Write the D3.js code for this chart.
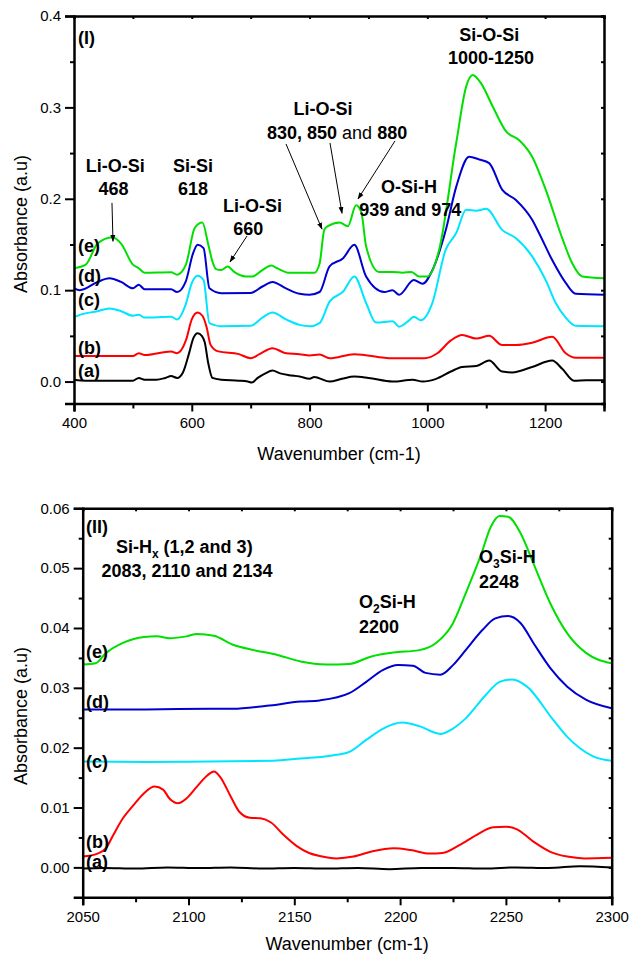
<!DOCTYPE html>
<html><head><meta charset="utf-8">
<script src="https://cdn.jsdelivr.net/npm/d3@7/dist/d3.min.js"></script>
<style>
body{margin:0;background:#fff;}
svg{display:block;font-family:"Liberation Sans",Arial,sans-serif;}
</style></head><body>
<svg id="c" width="630" height="958"></svg>
<script>
// ---------- DATA: panel I (400-1300 cm-1) ----------
const topXTicks = [400, 600, 800, 1000, 1200];
const topYTicks = [0.0, 0.1, 0.2, 0.3, 0.4];
const topA = [[400,0.002],[420,0.001],[450,0.001],[480,0.001],[500,0.001],[510,0.004],[520,0.002],[540,0.002],[555,0.004],[565,0.006],[575,0.004],[585,0.01],[595,0.03],[603,0.048],[610,0.053],[617,0.05],[622,0.043],[628,0.02],[635,0.004],[650,0.002],[680,0.001],[695,0.0],[702,-0.001],[712,0.004],[725,0.009],[737,0.012],[750,0.009],[765,0.007],[783,0.0055],[800,0.003],[808,0.005],[815,0.004],[834,0.0],[855,0.003],[876,0.0055],[900,0.004],[941,0.0],[975,0.002],[992,0.0],[1015,0.003],[1040,0.011],[1059,0.016],[1083,0.017],[1105,0.023],[1127,0.011],[1144,0.01],[1178,0.016],[1212,0.023],[1229,0.014],[1249,0.001],[1270,0.0015],[1300,0.0015]];
const topB = [[400,0.028],[450,0.028],[500,0.028],[510,0.031],[520,0.029],[565,0.033],[575,0.031],[590,0.045],[600,0.068],[610,0.0755],[618,0.072],[625,0.06],[632,0.04],[645,0.033],[680,0.03],[700,0.0256],[715,0.03],[737,0.0365],[760,0.031],[783,0.030],[800,0.0285],[817,0.0295],[834,0.0255],[876,0.030],[941,0.0255],[995,0.0255],[1017,0.031],[1040,0.045],[1059,0.051],[1083,0.047],[1105,0.050],[1127,0.040],[1150,0.040],[1178,0.0425],[1212,0.049],[1235,0.031],[1252,0.026],[1300,0.026]];
const topC = [[400,0.0705],[410,0.073],[440,0.077],[460,0.080],[480,0.077],[500,0.072],[510,0.073],[520,0.070],[565,0.071],[575,0.068],[590,0.085],[600,0.1077],[610,0.1157],[620,0.111],[630,0.064],[650,0.0605],[700,0.061],[720,0.07],[737,0.0755],[760,0.068],[783,0.062],[800,0.0605],[817,0.064],[834,0.0875],[857,0.0985],[876,0.115],[896,0.086],[913,0.0645],[941,0.066],[952,0.060],[969,0.067],[977,0.071],[989,0.067],[1008,0.085],[1031,0.144],[1049,0.1625],[1066,0.188],[1083,0.187],[1100,0.189],[1127,0.166],[1150,0.157],[1178,0.137],[1201,0.111],[1218,0.086],[1235,0.070],[1252,0.061],[1300,0.0605]];
const topD = [[400,0.102],[410,0.100],[440,0.109],[460,0.113],[480,0.109],[500,0.102],[510,0.106],[520,0.101],[565,0.101],[575,0.098],[590,0.11],[602,0.14],[610,0.1496],[620,0.146],[630,0.102],[650,0.0967],[700,0.097],[720,0.104],[737,0.109],[760,0.102],[783,0.096],[800,0.095],[817,0.098],[834,0.126],[857,0.135],[876,0.1496],[896,0.115],[927,0.098],[941,0.100],[952,0.095],[977,0.111],[992,0.107],[1008,0.121],[1031,0.165],[1049,0.213],[1071,0.246],[1088,0.243],[1105,0.239],[1127,0.21],[1150,0.199],[1178,0.177],[1190,0.162],[1212,0.133],[1235,0.108],[1252,0.096],[1300,0.095]];
const topE = [[400,0.124],[420,0.128],[440,0.151],[465,0.158],[480,0.151],[500,0.128],[510,0.124],[520,0.119],[565,0.1195],[575,0.117],[590,0.128],[605,0.168],[618,0.174],[628,0.15],[636,0.1295],[641,0.123],[650,0.122],[661,0.126],[672,0.12],[692,0.115],[703,0.115],[720,0.122],[735,0.127],[745,0.124],[766,0.119],[800,0.119],[808,0.119],[817,0.129],[825,0.166],[831,0.17],[851,0.174],[865,0.170],[879,0.193],[888,0.185],[896,0.148],[918,0.12],[941,0.12],[958,0.119],[973,0.12],[986,0.115],[1000,0.115],[1020,0.144],[1049,0.261],[1066,0.323],[1077,0.3355],[1091,0.3265],[1111,0.301],[1134,0.2735],[1156,0.264],[1178,0.246],[1201,0.21],[1229,0.157],[1246,0.1295],[1263,0.115],[1300,0.113]];

// ---------- DATA: panel II (2050-2300 cm-1) ----------
const botXTicks = [2050, 2100, 2150, 2200, 2250, 2300];
const botYTicks = [0.00, 0.01, 0.02, 0.03, 0.04, 0.05, 0.06];
const botA = [[2050,-0.0002],[2060,-0.0001],[2075,-0.0002],[2090,0.0000],[2105,-0.0001],[2120,0.0000],[2135,-0.0002],[2150,-0.0001],[2165,-0.0002],[2180,-0.0001],[2195,-0.0003],[2210,-0.0001],[2225,-0.0001],[2240,-0.0002],[2255,0.0000],[2270,-0.0001],[2285,0.0002],[2300,0.0000]];
const botB = [[2050,0.0018],[2057,0.0023],[2061,0.0032],[2064,0.0051],[2069,0.0082],[2074,0.0104],[2079,0.0124],[2084,0.0135],[2088,0.013],[2091,0.0115],[2095,0.0107],[2099,0.0115],[2104,0.0135],[2109,0.0154],[2112,0.016],[2115,0.0151],[2120,0.0118],[2124,0.0093],[2129,0.0083],[2134,0.0082],[2139,0.0075],[2145,0.0054],[2151,0.0036],[2157,0.0024],[2162,0.0019],[2170,0.0015],[2178,0.0018],[2187,0.0027],[2197,0.0032],[2205,0.0029],[2214,0.0023],[2220,0.0024],[2228,0.0037],[2236,0.0054],[2244,0.0067],[2250,0.0068],[2255,0.0064],[2263,0.0043],[2271,0.0026],[2279,0.0018],[2287,0.0015],[2300,0.0016]];
const botC = [[2050,0.0177],[2080,0.0176],[2110,0.0177],[2140,0.0178],[2153,0.0182],[2168,0.0187],[2176,0.0193],[2184,0.0213],[2192,0.0232],[2201,0.0242],[2209,0.0236],[2219,0.0223],[2225,0.0232],[2231,0.0249],[2241,0.029],[2247,0.031],[2253,0.0314],[2260,0.0302],[2272,0.0248],[2279,0.0218],[2285,0.0199],[2291,0.0186],[2300,0.0178]];
const botD = [[2050,0.0264],[2080,0.0264],[2110,0.0265],[2121,0.0265],[2137,0.027],[2153,0.0277],[2162,0.0279],[2176,0.0291],[2184,0.031],[2192,0.033],[2199,0.0338],[2206,0.0337],[2212,0.0325],[2219,0.0322],[2225,0.0338],[2231,0.0363],[2239,0.0397],[2245,0.0416],[2251,0.042],[2257,0.0408],[2263,0.0375],[2271,0.0333],[2279,0.0302],[2288,0.028],[2300,0.0266]];
const botE = [[2050,0.0339],[2056,0.0341],[2061,0.0358],[2069,0.0375],[2079,0.0385],[2085,0.0386],[2091,0.0383],[2099,0.0386],[2104,0.039],[2112,0.0387],[2121,0.0372],[2131,0.0363],[2142,0.0355],[2153,0.0344],[2165,0.0339],[2176,0.034],[2186,0.0352],[2197,0.0359],[2209,0.0363],[2217,0.0375],[2225,0.0408],[2231,0.0458],[2238,0.052],[2243,0.057],[2247,0.0587],[2251,0.0586],[2257,0.0558],[2263,0.0508],[2271,0.0441],[2279,0.0391],[2288,0.0358],[2300,0.0341]];

const seriesNames = ["(a)", "(b)", "(c)", "(d)", "(e)"];
const seriesColors = ["#000000", "#ff0000", "#00e5ff", "#0000d0", "#00e000"];

// ---------- DRAW ----------
const svg = d3.select("#c");

function panel(cfg){
  const g = svg.append("g");
  const x = d3.scaleLinear().domain(cfg.xd).range([cfg.l, cfg.r]);
  const y = d3.scaleLinear().domain(cfg.yd).range([cfg.b, cfg.t]);
  // curves
  const line = d3.line().x(d=>x(d[0])).y(d=>y(d[1])).curve(d3.curveMonotoneX);
  cfg.series.forEach((s,i)=>{
    g.append("path").attr("d", line(s)).attr("fill","none")
     .attr("stroke", seriesColors[i]).attr("stroke-width", 2).attr("stroke-linejoin","round");
  });
  // axes
  const xa = d3.axisBottom(x).tickValues(cfg.xt).tickFormat(cfg.xf).tickSize(8).tickPadding(6);
  const xm = d3.axisBottom(x).tickValues(cfg.xminor).tickFormat("").tickSize(5);
  const ya = d3.axisLeft(y).tickValues(cfg.yt).tickFormat(cfg.yf).tickSize(9).tickPadding(4);
  const ym = d3.axisLeft(y).tickValues(cfg.yminor).tickFormat("").tickSize(4);
  const xt = d3.axisTop(x).tickValues(cfg.xminor.concat(cfg.xt)).tickFormat("").tickSize(-3);
  const yr = d3.axisRight(y).tickValues(cfg.yminor.concat(cfg.yt)).tickFormat("").tickSize(-3);
  function style(sel){
    sel.select(".domain").attr("stroke","#000").attr("stroke-width",2.5);
    sel.selectAll(".tick line").attr("stroke","#000").attr("stroke-width",2);
    sel.selectAll(".tick text").attr("fill","#000").style("font-size","15px").style("font-family",'"Liberation Sans",Arial,sans-serif');
  }
  g.append("g").attr("transform",`translate(0,${cfg.b})`).call(xm).call(style).select(".domain").remove();
  g.append("g").attr("transform",`translate(0,${cfg.b})`).call(xa).call(style);
  g.append("g").attr("transform",`translate(${cfg.l},0)`).call(ym).call(style).select(".domain").remove();
  g.append("g").attr("transform",`translate(${cfg.l},0)`).call(ya).call(style);
  g.append("g").attr("transform",`translate(0,${cfg.t})`).call(xt).call(style);
  g.append("g").attr("transform",`translate(${cfg.r},0)`).call(yr).call(style);
  g.selectAll(".domain").attr("stroke-width",2.5);
  // axis titles
  g.append("text").attr("x",(cfg.l+cfg.r)/2).attr("y",cfg.xTitleY).attr("text-anchor","middle")
   .style("font-size","18px").text("Wavenumber (cm-1)");
  g.append("text").attr("transform",`translate(27,${cfg.yTitleC}) rotate(-90)`).attr("text-anchor","middle")
   .style("font-size","18px").text("Absorbance (a.u)");
  // series labels
  cfg.labelY.forEach((v,i)=>{
    g.append("text").attr("x",x(cfg.labelX)).attr("y",y(v)).style("font-size","18px").style("font-weight","bold").text(seriesNames[i]);
  });
  return {g,x,y};
}

const P1 = panel({
  xd:[400,1300], yd:[-0.024,0.4], l:74, r:604, t:16, b:403.5,
  xt: topXTicks, xminor:[500,700,900,1100,1300], xf:d3.format("d"),
  yt: topYTicks, yminor:[0.05,0.15,0.25,0.35], yf:d3.format(".1f"),
  series:[topA,topB,topC,topD,topE],
  xTitleY:460, yTitleC:224, labelX:406.8, labelY:[0.005,0.0302,0.0827,0.1089,0.1418]
});
const P2 = panel({
  xd:[2050,2300], yd:[-0.005,0.06], l:82.7, r:611.7, t:508.3, b:897.3,
  xt: botXTicks, xminor:[2075,2125,2175,2225,2275], xf:d3.format("d"),
  yt: botYTicks, yminor:[0.005,0.015,0.025,0.035,0.045,0.055], yf:d3.format(".2f"),
  series:[botA,botB,botC,botD,botE],
  xTitleY:950, yTitleC:716, labelX:2051.6, labelY:[-0.0001,0.00324,0.0166,0.02664,0.035]
});

// ---------- ANNOTATIONS ----------
svg.append("defs").append("marker").attr("id","ah").attr("viewBox","0 0 10 10")
  .attr("refX",9).attr("refY",5).attr("markerWidth",7).attr("markerHeight",7).attr("orient","auto")
  .append("path").attr("d","M0,1.5 L10,5 L0,8.5 Z").attr("fill","#000");

function label(P, w, v, lines, anchor){
  const t = P.g.append("text").attr("x",P.x(w)).attr("y",P.y(v))
    .attr("text-anchor",anchor||"middle").style("font-size","18px").style("font-weight","bold");
  lines.forEach(p=>{
    const ts = t.append("tspan").text(p.t);
    if(p.n) ts.style("font-weight","normal");
    if(p.sub){ ts.style("font-size","12px").attr("dy",5); }
    if(p.up){ ts.attr("dy",-5); }
  });
}
function arrow(P, w1, v1, w2, v2){
  P.g.append("line").attr("x1",P.x(w1)).attr("y1",P.y(v1)).attr("x2",P.x(w2)).attr("y2",P.y(v2))
   .attr("stroke","#000").attr("stroke-width",1).attr("marker-end","url(#ah)");
}

// panel I
label(P1, 407, 0.369, [{t:"(I)"}], "start");
label(P1, 470, 0.229, [{t:"Li-O-Si"}]);
label(P1, 467, 0.204, [{t:"468"}]);
label(P1, 602, 0.229, [{t:"Si-Si"}]);
label(P1, 602, 0.204, [{t:"618"}]);
label(P1, 703, 0.1856, [{t:"Li-O-Si"}]);
label(P1, 696, 0.1604, [{t:"660"}]);
label(P1, 823, 0.2917, [{t:"Li-O-Si"}]);
label(P1, 727.7, 0.2654, [{t:"830"},{t:", "},{t:"850"},{t:" and ",n:true},{t:"880"}], "start");
label(P1, 969, 0.2064, [{t:"O-Si-H"}]);
label(P1, 971, 0.181, [{t:"939 and 974"}]);
label(P1, 1105, 0.3727, [{t:"Si-O-Si"}]);
label(P1, 1108, 0.3475, [{t:"1000-1250"}]);
arrow(P1, 464.5, 0.1955, 466.2, 0.1535);
arrow(P1, 693.8, 0.1593, 664.9, 0.1309);
arrow(P1, 760, 0.2600, 821.1, 0.1668);
arrow(P1, 834.7, 0.2611, 855.1, 0.1842);
arrow(P1, 945.1, 0.2633, 882.3, 0.1998);

// panel II
label(P2, 2051.6, 0.0559, [{t:"(II)"}], "start");
label(P2, 2098, 0.05253, [{t:"Si-H"},{t:"x",sub:true},{t:" (1,2 and 3)",up:true}]);
label(P2, 2099.3, 0.04852, [{t:"2083, 2110 and 2134"}]);
label(P2, 2180.6, 0.0434, [{t:"O"},{t:"2",sub:true},{t:"Si-H",up:true}], "start");
label(P2, 2180.6, 0.03917, [{t:"2200"}], "start");
label(P2, 2237.3, 0.05087, [{t:"O"},{t:"3",sub:true},{t:"Si-H",up:true}], "start");
label(P2, 2237.3, 0.0467, [{t:"2248"}], "start");
</script>
</body></html>
